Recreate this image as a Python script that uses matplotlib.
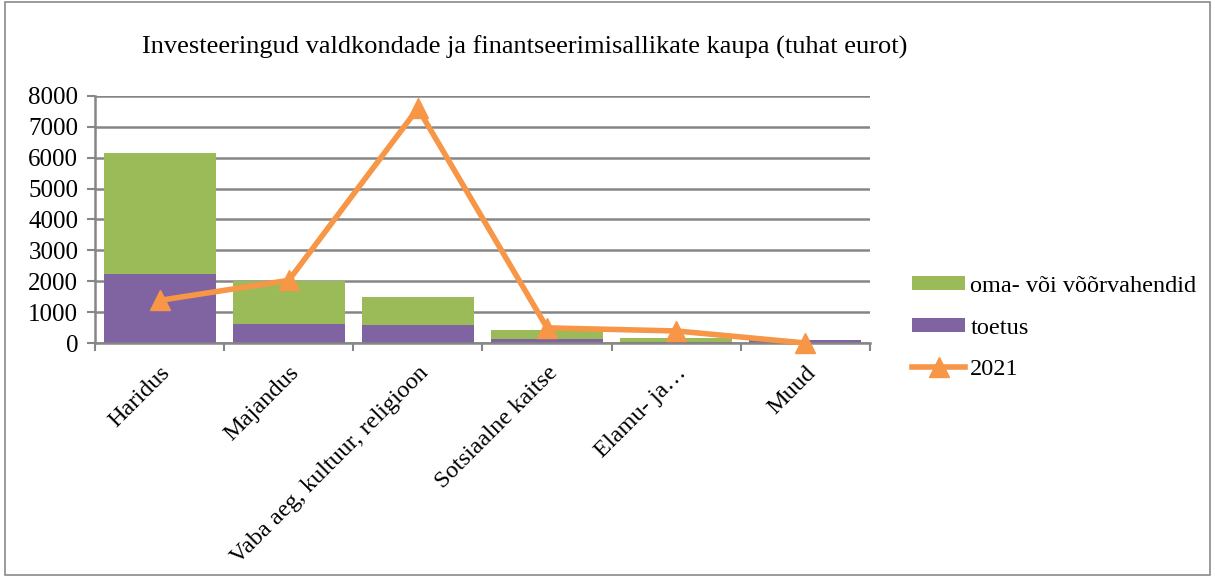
import matplotlib
matplotlib.use("Agg")
import matplotlib.pyplot as plt
from matplotlib.patches import Rectangle
import numpy as np

categories = ["Haridus", "Majandus", "Vaba aeg, kultuur, religioon",
              "Sotsiaalne kaitse", "Elamu- ja…", "Muud"]
toetus = [2230, 610, 580, 130, 20, 100]
oma = [3920, 1400, 910, 290, 140, 0]
line_2021 = [1380, 2030, 7600, 490, 390, 0]
yticks = [0, 1000, 2000, 3000, 4000, 5000, 6000, 7000, 8000]

plt.rcParams['font.family'] = ['Liberation Serif', 'DejaVu Serif']

GREEN = "#9BBB59"
PURPLE = "#8064A2"
ORANGE = "#F79646"
GRID = "#868686"

fig = plt.figure(figsize=(12.15, 5.77), dpi=100)
W, H = 1215, 577
ax = fig.add_axes([95 / W, 1 - 343 / H, 775 / W, 247 / H])

x = np.arange(len(categories))
ax.bar(x, toetus, width=0.867, color=PURPLE, zorder=2, label="toetus")
ax.bar(x, oma, width=0.867, bottom=toetus, color=GREEN, zorder=2,
       label="oma- või võõrvahendid")
ax.plot(x, line_2021, color=ORANGE, lw=4, marker="^", markersize=14,
        zorder=3, label="2021", clip_on=False)

ax.set_xlim(-0.5, len(categories) - 0.5)
ax.set_ylim(0, 8000)
ax.set_yticks(yticks)
ax.set_yticklabels([str(v) for v in yticks], fontsize=18)
ax.yaxis.grid(True, color=GRID, lw=1.8, zorder=0)
ax.set_axisbelow(True)

for s in ["top", "right"]:
    ax.spines[s].set_visible(False)
ax.spines["left"].set_color(GRID)
ax.spines["left"].set_linewidth(1.8)
ax.spines["bottom"].set_color(GRID)
ax.spines["bottom"].set_linewidth(1.8)
ax.tick_params(axis="y", color=GRID, width=1.5, length=6, pad=6)

# category boundary ticks
ax.set_xticks(np.arange(-0.5, len(categories), 1.0), minor=True)
ax.set_xticks(x)
ax.set_xticklabels(categories, rotation=45, ha="right", rotation_mode="anchor",
                   fontsize=17.5)
ax.tick_params(axis="x", which="major", length=0, pad=14)
ax.tick_params(axis="x", which="minor", length=6, color=GRID, width=1.5)

fig.text(525 / W, 1 - 47 / H,
         "Investeeringud valdkondade ja finantseerimisallikate kaupa (tuhat eurot)",
         ha="center", va="center", fontsize=19)

handles, labels = ax.get_legend_handles_labels()
leg = fig.legend([handles[labels.index("oma- või võõrvahendid")],
                  handles[labels.index("toetus")],
                  handles[labels.index("2021")]],
                 ["oma- või võõrvahendid", "toetus", "2021"],
                 loc="center left", bbox_to_anchor=(890 / W, 1 - 328 / H),
                 frameon=False, fontsize=17.5, handlelength=2.2, handleheight=0.5,
                 labelspacing=0.85, handletextpad=0.2)

# outer border
fig.add_artist(Rectangle((0.004, 0.004), 0.992, 0.992, transform=fig.transFigure,
                         fill=False, edgecolor="#8a8a8a", lw=1.2))

fig.savefig("out.png", dpi=100, facecolor="white")
